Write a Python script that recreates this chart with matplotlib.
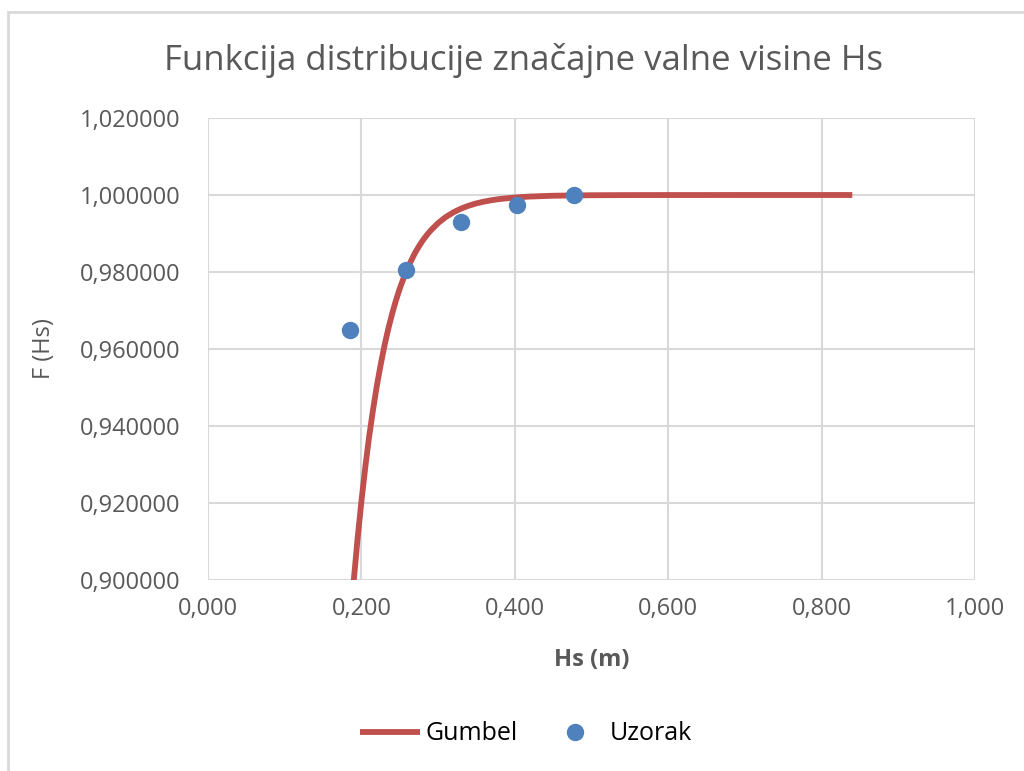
import matplotlib
matplotlib.use("Agg")
import matplotlib.pyplot as plt
from matplotlib.patches import Rectangle
from matplotlib.ticker import FuncFormatter

# Gumbel krivulja (ocitano sa slike)
gumbel_hs = [0.190, 0.195, 0.200, 0.205, 0.210, 0.215, 0.220, 0.225, 0.230, 0.235,
             0.240, 0.245, 0.250, 0.255, 0.260, 0.265, 0.270, 0.275, 0.280, 0.285,
             0.290, 0.300, 0.310, 0.320, 0.330, 0.340, 0.350, 0.360, 0.370, 0.380,
             0.400, 0.420, 0.450, 0.500, 0.550, 0.600, 0.700, 0.840]
gumbel_f = [0.8998, 0.9107, 0.9204, 0.9292, 0.9371, 0.9440, 0.9503, 0.9558, 0.9608, 0.9652,
            0.9691, 0.9726, 0.9757, 0.9784, 0.9809, 0.9830, 0.9850, 0.98667, 0.9882, 0.98952,
            0.99071, 0.99271, 0.99428, 0.99550, 0.99648, 0.99723, 0.99783, 0.99829, 0.99866, 0.99895,
            0.99935, 0.99960, 0.99981, 0.99994, 0.99998, 0.99999, 1.0, 1.0]

# uzorak
uzorak_hs = [0.185, 0.258, 0.330, 0.403, 0.477]
uzorak_f = [0.9649, 0.9806, 0.9930, 0.9974, 1.0000]

xticks = [0.0, 0.2, 0.4, 0.6, 0.8, 1.0]
yticks = [0.90, 0.92, 0.94, 0.96, 0.98, 1.00, 1.02]

plt.rcParams['font.family'] = ['Open Sans', 'DejaVu Sans']
siva = '#595959'

fig = plt.figure(figsize=(10.24, 7.71), dpi=100)
fig.patches.append(Rectangle((8 / 1024, -0.1), 1.2, 1 - 12 / 771 + 0.1, transform=fig.transFigure,
                             fill=False, edgecolor='#d9d9d9', linewidth=2))

ax = fig.add_axes([208 / 1024, 1 - 580 / 771, (975 - 208) / 1024, (580 - 118) / 771])
ax.plot(gumbel_hs, gumbel_f, color='#c0504d', linewidth=4.2, label='Gumbel', zorder=3,
        solid_capstyle='butt', solid_joinstyle='round')
ax.plot(uzorak_hs, uzorak_f, 'o', color='#4f81bd', markersize=11.5, label='Uzorak', zorder=4)

ax.set_xlim(0, 1)
ax.set_ylim(0.90, 1.02)
ax.set_xticks(xticks)
ax.set_yticks(yticks)
ax.xaxis.set_major_formatter(FuncFormatter(lambda v, p: f"{v:.3f}".replace('.', ',')))
ax.yaxis.set_major_formatter(FuncFormatter(lambda v, p: f"{v:.6f}".replace('.', ',')))
ax.grid(True, color='#d9d9d9', linewidth=1.5)
ax.set_axisbelow(True)
for s in ax.spines.values():
    s.set_visible(False)
ax.tick_params(length=0, labelsize=17, colors=siva)
ax.tick_params(axis='x', pad=12)
ax.tick_params(axis='y', pad=20)

ax.set_xlabel('Hs (m)', fontsize=17, fontweight='bold', color=siva, labelpad=20)
ax.set_ylabel('F (Hs)', fontsize=17, color=siva, labelpad=17)

fig.text(0.511, 1 - 60 / 771, 'Funkcija distribucije značajne valne visine Hs', ha='center',
         va='center', fontsize=25, color=siva)

fig.legend(loc='center', bbox_to_anchor=(0.514, 1 - 734 / 771), ncol=2, frameon=False,
           fontsize=18, handlelength=2.4, handletextpad=0.2, columnspacing=1.1,
           labelcolor='black')

fig.savefig('out.png', dpi=100)
